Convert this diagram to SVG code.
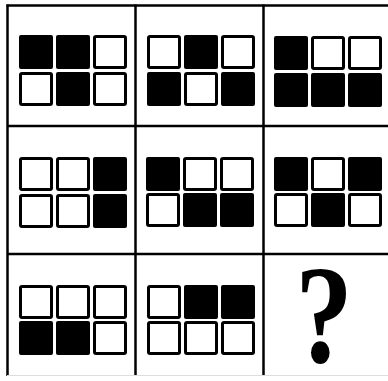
<svg xmlns="http://www.w3.org/2000/svg" width="388" height="381" viewBox="0 0 388 381">
<style>
.b{fill:#000}
.w{fill:#fff;stroke:#000;stroke-width:3}
.ln{stroke:#000;stroke-width:2.5;fill:none}
.q{font-family:"Liberation Serif","Times New Roman",serif;font-size:128px;font-weight:bold;fill:#000}
</style>
<defs>
<rect id="B" class="b" width="34" height="34" rx="2"/>
<rect id="W" class="w" x="1.5" y="1.5" width="31" height="31" rx="1.5"/>
</defs>
<rect width="388" height="381" fill="#fff"/>
<g id="connectors">
<line class="ln" x1="6.5" y1="5.5" x2="388" y2="5.5"/>
<line class="ln" x1="7.5" y1="4.5" x2="7.5" y2="376"/>
<line class="ln" x1="135.5" y1="4.5" x2="135.5" y2="376"/>
<line class="ln" x1="263.5" y1="4.5" x2="263.5" y2="376"/>
<line class="ln" x1="7" y1="126" x2="388" y2="126"/>
<line class="ln" x1="7" y1="254" x2="388" y2="254"/>
<line x1="7" y1="375.5" x2="388" y2="375.5" stroke="#ddd" stroke-width="1"/>
</g>
<g id="cell1" transform="translate(19,35)">
<use href="#B" x="0" y="0"/><use href="#B" x="37" y="0"/><use href="#W" x="74" y="0"/>
<use href="#W" x="0" y="37"/><use href="#B" x="37" y="37"/><use href="#W" x="74" y="37"/>
</g>
<g id="cell2" transform="translate(147,35)">
<use href="#W" x="0" y="0"/><use href="#B" x="37" y="0"/><use href="#W" x="74" y="0"/>
<use href="#B" x="0" y="37"/><use href="#W" x="37" y="37"/><use href="#B" x="74" y="37"/>
</g>
<g id="cell3" transform="translate(274,36)">
<use href="#B" x="0" y="0"/><use href="#W" x="37" y="0"/><use href="#W" x="74" y="0"/>
<use href="#B" x="0" y="37"/><use href="#B" x="37" y="37"/><use href="#B" x="74" y="37"/>
</g>
<g id="cell4" transform="translate(19,157)">
<use href="#W" x="0" y="0"/><use href="#W" x="37" y="0"/><use href="#B" x="74" y="0"/>
<use href="#W" x="0" y="37"/><use href="#W" x="37" y="37"/><use href="#B" x="74" y="37"/>
</g>
<g id="cell5" transform="translate(146,157)">
<use href="#B" x="0" y="0"/><use href="#W" x="37" y="0"/><use href="#W" x="74" y="0"/>
<use href="#W" x="0" y="36"/><use href="#B" x="37" y="36"/><use href="#B" x="74" y="36"/>
</g>
<g id="cell6" transform="translate(274,157)">
<use href="#B" x="0" y="0"/><use href="#W" x="37" y="0"/><use href="#B" x="74" y="0"/>
<use href="#W" x="0" y="36"/><use href="#B" x="37" y="36"/><use href="#W" x="74" y="36"/>
</g>
<g id="cell7" transform="translate(19,285)">
<use href="#W" x="0" y="0"/><use href="#W" x="37" y="0"/><use href="#W" x="74" y="0"/>
<use href="#B" x="0" y="36"/><use href="#B" x="37" y="36"/><use href="#W" x="74" y="36"/>
</g>
<g id="cell8" transform="translate(147,285)">
<use href="#W" x="0" y="0"/><use href="#B" x="37" y="0"/><use href="#B" x="74" y="0"/>
<use href="#W" x="0" y="36"/><use href="#W" x="37" y="36"/><use href="#W" x="74" y="36"/>
</g>
<g id="cell9">
<text class="q" x="0" y="0" text-anchor="middle" transform="translate(324 362) scale(0.9 1.1)">?</text>
</g>
</svg>
